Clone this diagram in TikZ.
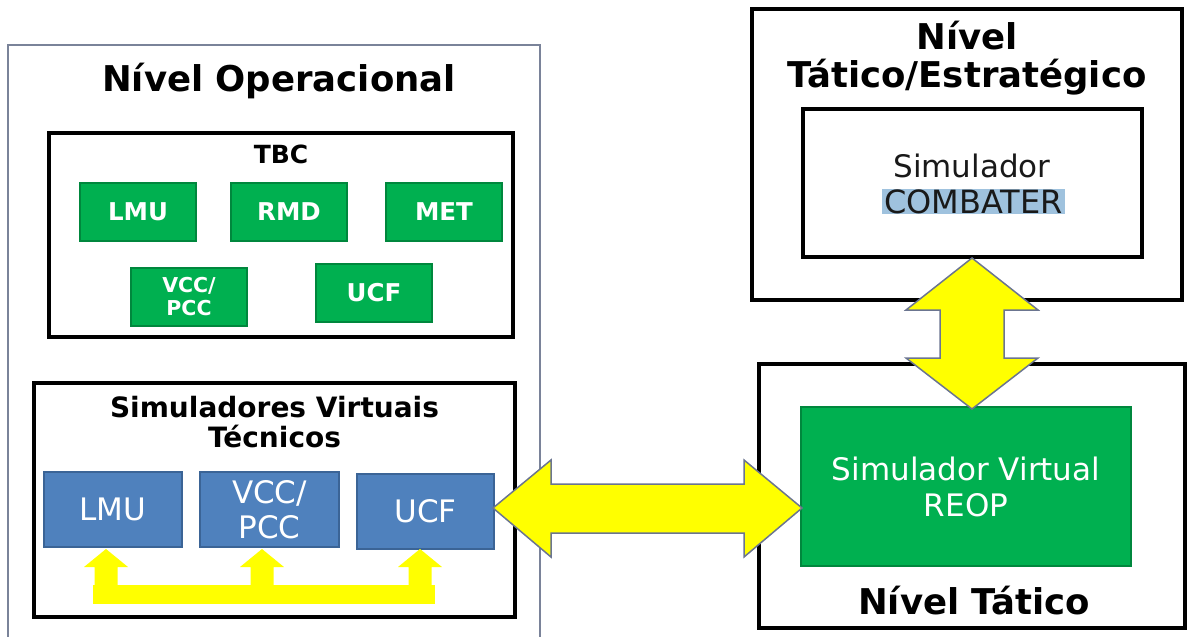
\documentclass[tikz,border=0pt]{standalone}
\usepackage{fontspec}
\setmainfont{DejaVu Sans}
\usetikzlibrary{calc}
\definecolor{gfill}{HTML}{00B050}
\definecolor{gdraw}{HTML}{00873D}
\definecolor{bfill}{HTML}{4F81BD}
\definecolor{bdraw}{HTML}{3B6496}
\definecolor{outergray}{HTML}{7A8399}
\definecolor{yel}{HTML}{FFFF00}
\definecolor{ydraw}{HTML}{6B7590}
\definecolor{hlblue}{HTML}{9FC2DE}
\tikzset{
  outerbox/.style={draw=outergray,line width=2.5pt,inner sep=0pt},
  blackbox/.style={draw=black,line width=3.5pt,inner sep=0pt},
  greenbox/.style={draw=gdraw,fill=gfill,line width=2pt,text=white,align=center,
     font=\bfseries\fontsize{24.5}{26}\selectfont,inner sep=0pt},
  bluebox/.style={draw=bdraw,fill=bfill,line width=1.5pt,text=white,align=center,
     font=\fontsize{31}{35}\selectfont,inner sep=0pt},
  title/.style={font=\bfseries\fontsize{35.5}{38}\selectfont,align=center,inner sep=0pt},
  yarrow/.style={fill=yel,draw=ydraw,line width=1.5pt,line join=miter},
}
\begin{document}
\begin{tikzpicture}[x=1pt,y=-1pt]
\useasboundingbox (0,0) rectangle (1187,637);
% left side
\node[outerbox,minimum width=532,minimum height=615] (oper) at (274,352.5) {};
\node[title] (opertitle) at (279,81) {Nível Operacional};
\node[blackbox,minimum width=464,minimum height=204] (tbc) at (281,235) {};
\node[font=\bfseries\fontsize{25}{26}\selectfont,inner sep=0pt] (tbctitle) at (281,154) {TBC};
\node[greenbox,minimum width=116,minimum height=58] (glmu) at (138,212) {LMU};
\node[greenbox,minimum width=116,minimum height=58] (grmd) at (289,212) {RMD};
\node[greenbox,minimum width=116,minimum height=58] (gmet) at (444,212) {MET};
\node[greenbox,minimum width=116,minimum height=58,font=\bfseries\fontsize{20.5}{23}\selectfont] (gvcc) at (189,297) {VCC/\\PCC};
\node[greenbox,minimum width=116,minimum height=58] (gucf) at (374,293) {UCF};

\node[blackbox,minimum width=481,minimum height=234] (svt) at (274.5,500) {};
\node[font=\bfseries\fontsize{28}{30}\selectfont,align=center,inner sep=0pt] (svttitle) at (274.5,422) {Simuladores Virtuais\\Técnicos};
\node[bluebox,minimum width=138,minimum height=75] (blmu) at (113,509.5) {LMU};
\node[bluebox,minimum width=139,minimum height=75] (bvcc) at (269.5,509.5) {VCC/\\PCC};
\node[bluebox,minimum width=137,minimum height=75] (bucf) at (425.5,511.5) {UCF};

% bus arrows
\fill[yel] (93,585) rectangle (435,604);
\foreach \c in {106,262,420}{
  \fill[yel] ({\c-11.5},586) -- ({\c-11.5},567) -- ({\c-22},567) -- (\c,549)
     -- ({\c+22},567) -- ({\c+11.5},567) -- ({\c+11.5},586) -- cycle;
}

% right side
\node[blackbox,minimum width=430,minimum height=291] (te) at (967,154.5) {};
\node[title] (tetitle) at (967,58) {Nível\\Tático/Estratégico};
\node[blackbox,minimum width=339,minimum height=148] (comb) at (972.5,183) {};
\node[fill=hlblue,inner xsep=2pt,inner ysep=0pt,text height=24pt,text depth=1pt,
      font=\fontsize{32}{36}\selectfont,text=black!90] (combname) at (973.5,201.5) {COMBATER};
\node[font=\fontsize{31}{36}\selectfont,text=black!90,inner sep=0pt,anchor=base]
      (combsim) at (972,177) {Simulador};
\node[blackbox,minimum width=426,minimum height=264] (tat) at (972,496) {};
\node[greenbox,minimum width=330,minimum height=159,font=\fontsize{31}{36}\selectfont]
      (reop) at (966,486.5) {Simulador Virtual\\REOP};
\node[title] (tattitle) at (974,601) {Nível Tático};

% double arrows
\coordinate (vt) at (972,258);
\coordinate (vb) at (972,409);
\draw[yarrow] (vt) -- ++(66,52) -- ++(-34,0) -- ++(0,48) -- ++(34,0) -- (vb)
   -- ++(-66,-51) -- ++(34,0) -- ++(0,-48) -- ++(-34,0) -- cycle;
\coordinate (hlt) at (493,508);
\coordinate (hrt) at (802,508);
\draw[yarrow] (hlt) -- ++(58,-48) -- ++(0,24) -- ++(193,0) -- ++(0,-24) -- (hrt)
   -- ++(-58,49) -- ++(0,-24) -- ++(-193,0) -- ++(0,24) -- cycle;
\end{tikzpicture}
\end{document}
